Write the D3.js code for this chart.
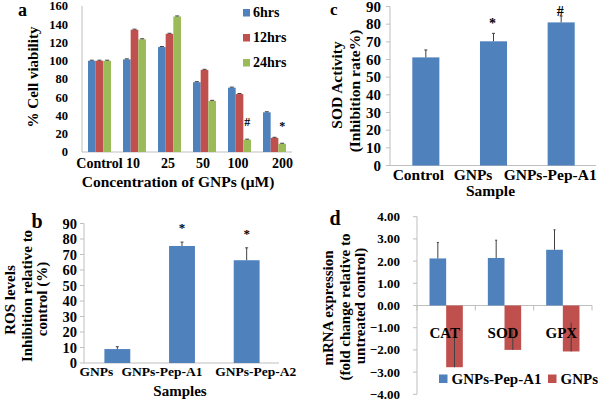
<!DOCTYPE html>
<html><head><meta charset="utf-8">
<script src="https://cdn.jsdelivr.net/npm/d3@7"></script>
<style>
html,body{margin:0;padding:0;background:#fff;}
svg text{font-family:"Liberation Serif","Times New Roman",serif;font-weight:bold;fill:#000;}
</style></head>
<body><svg id="c" width="600" height="401"></svg>
<script>
// ---- Panel a data ----
const catsA = ["Control","10","25","50","100","200"];
const seriesA = ["6hrs","12hrs","24hrs"];
const v6hrs  = [100,101.5,115,76.5,70.5,43.5];
const v12hrs = [100,134,129.5,90,63.5,15.5];
const v24hrs = [100,123.5,148.5,56,13.5,9];
const errA   = [0.6,0.6,0.6,0.6,0.6,0.6];
const sigA24 = ["","","","","#","*"];
const ticksA = [0,20,40,60,80,100,120,140,160];
// ---- Panel b data ----
const catsB = ["GNPs","GNPs-Pep-A1","GNPs-Pep-A2"];
const valB  = [9,75.5,66.3];
const errB  = [1.5,2.5,8];
const sigB  = ["","*","*"];
const ticksB = [0,10,20,30,40,50,60,70,80,90];
// ---- Panel c data ----
const catsC = ["Control","GNPs","GNPs-Pep-A1"];
const valC  = [61.2,70.3,81];
const errC  = [4.2,4.5,3.6];
const sigC  = ["","*","#"];
const ticksC = [0,10,20,30,40,50,60,70,80,90];
// ---- Panel d data ----
const genesD = ["CAT","SOD","GPX"];
const seriesD = ["GNPs-Pep-A1","GNPs"];
const pepA1D = [2.12,2.14,2.51];
const pepA1Err = [0.72,0.8,0.9];
const gnpsD = [-2.78,-2.0,-2.07];
const gnpsErr = [1.4,1.0,1.3];
const ticksD = [-4,-3,-2,-1,0,1,2,3,4];

const BLUE="#4F81BD", RED="#C0504D", GREEN="#9BBB59", AX="#BFBFBF", ERR="#404040";
const svg = d3.select("#c");

function txt(g,x,y,s,size,opts={}){
  const t=g.append("text").attr("x",x).attr("y",y).text(s).style("font-size",size+"px");
  if(opts.anchor) t.attr("text-anchor",opts.anchor);
  if(opts.dy) t.attr("dy",opts.dy);
  if(opts.rot) t.attr("transform",`rotate(-90,${x},${y})`);
  return t;
}
function yAxis(g,y,x0,ticks,fmt,size,labX,tick=0){
  g.append("line").attr("x1",x0).attr("x2",x0).attr("y1",y.range()[1]).attr("y2",y.range()[0]).attr("stroke",AX);
  ticks.forEach(v=>{
    if(tick) g.append("line").attr("x1",x0-tick).attr("x2",x0).attr("y1",y(v)).attr("y2",y(v)).attr("stroke",AX);
    txt(g,labX,y(v),fmt(v),size,{anchor:"end",dy:"0.35em"});
  });
}
function errBar(g,x,y1,y2,cap){
  g.append("line").attr("x1",x).attr("x2",x).attr("y1",y1).attr("y2",y2).attr("stroke",ERR).attr("stroke-width",1);
  if(cap) g.append("line").attr("x1",x-cap).attr("x2",x+cap).attr("y1",y2).attr("y2",y2).attr("stroke",ERR).attr("stroke-width",1);
}

// ================= Panel a =================
(function(){
  const g=svg.append("g");
  const y=d3.scaleLinear().domain([0,160]).range([152,6]);
  const x0=d3.scaleBand().domain(catsA).range([82,292]).paddingInner(0.343).paddingOuter(0.1715);
  const x1=d3.scaleBand().domain(seriesA).range([0,x0.bandwidth()]);
  const cols=[BLUE,RED,GREEN];
  const vals=[v6hrs,v12hrs,v24hrs];
  yAxis(g,y,82,ticksA,d=>d,12.5,68);
  g.append("line").attr("x1",82).attr("x2",292).attr("y1",y(0)).attr("y2",y(0)).attr("stroke",AX);
  seriesA.forEach((s,si)=>{
    catsA.forEach((c,ci)=>{
      const v=vals[si][ci];
      g.append("rect").attr("x",x0(c)+x1(s)).attr("y",y(v)).attr("width",x1.bandwidth()).attr("height",y(0)-y(v)).attr("fill",cols[si]);
      errBar(g,x0(c)+x1(s)+x1.bandwidth()/2,y(v),y(v+errA[ci]),2);
    });
  });
  catsA.forEach((c,ci)=>{
    if(sigA24[ci]){
      const cx=x0(c)+x1("24hrs")+x1.bandwidth()/2;
      txt(g,cx,y(v24hrs[ci])-18,sigA24[ci],12,{anchor:"middle",dy:"0.35em"});
    }
    const shift = ci===5?8:(ci===0?0:-1.5);
    txt(g,x0(c)+x0.bandwidth()/2+shift,168,c,14,{anchor:"middle"});
  });
  // legend
  seriesA.forEach((s,si)=>{
    g.append("rect").attr("x",243).attr("y",9+si*25).attr("width",7).attr("height",7.5).attr("fill",cols[si]);
    txt(g,253,16.5+si*25,s,14);
  });
  txt(g,33,77,"% Cell viability",15,{anchor:"middle",dy:"0.35em",rot:1});
  txt(g,178,187,"Concentration of GNPs (\u03bcM)",15.5,{anchor:"middle"});
  txt(g,18,16,"a",18);
})();

// ================= Panel b =================
(function(){
  const g=svg.append("g");
  const y=d3.scaleLinear().domain([0,90]).range([363,223.5]);
  const x=d3.scaleBand().domain(catsB).range([85,279]).paddingInner(0.6).paddingOuter(0.3);
  yAxis(g,y,84,ticksB,d=>d,14.5,77,4);
  g.append("line").attr("x1",84).attr("x2",279).attr("y1",y(0)).attr("y2",y(0)).attr("stroke",AX);
  catsB.forEach((c,i)=>{
    g.append("rect").attr("x",x(c)).attr("y",y(valB[i])).attr("width",x.bandwidth()).attr("height",y(0)-y(valB[i])).attr("fill",BLUE);
    const cx=x(c)+x.bandwidth()/2;
    errBar(g,cx,y(valB[i]),y(valB[i]+errB[i]),1.5);
    if(sigB[i]) txt(g,cx,y(valB[i]+errB[i])-14.5,sigB[i],13,{anchor:"middle",dy:"0.35em"});
    const shift=[-21,-20,9][i];
    txt(g,cx+shift,375.5,c,13.5,{anchor:"middle"});
  });
  txt(g,10,300,"ROS levels",15,{anchor:"middle",dy:"0.35em",rot:1});
  txt(g,27,296,"Inhibition relative to",15,{anchor:"middle",dy:"0.35em",rot:1});
  txt(g,42,299,"control (%)",15,{anchor:"middle",dy:"0.35em",rot:1});
  txt(g,180,396,"Samples",15,{anchor:"middle"});
  txt(g,31.5,228,"b",20);
})();

// ================= Panel c =================
(function(){
  const g=svg.append("g");
  const y=d3.scaleLinear().domain([0,90]).range([165.5,6.5]);
  const x=d3.scaleBand().domain(catsC).range([392,595]).paddingInner(0.6).paddingOuter(0.3);
  yAxis(g,y,390,ticksC,d=>d,15,381,4);
  g.append("line").attr("x1",390).attr("x2",596).attr("y1",y(0)).attr("y2",y(0)).attr("stroke",AX);
  catsC.forEach((c,i)=>{
    g.append("rect").attr("x",x(c)).attr("y",y(valC[i])).attr("width",x.bandwidth()).attr("height",y(0)-y(valC[i])).attr("fill",BLUE);
    const cx=x(c)+x.bandwidth()/2;
    errBar(g,cx,y(valC[i]),y(valC[i]+errC[i]),1.5);
    if(sigC[i]) txt(g,cx-1,y(valC[i]+errC[i])-(sigC[i]==="*"?10.5:5),sigC[i],14,{anchor:"middle",dy:"0.35em"});
    const shift=[-7.5,-20.5,-11][i];
    txt(g,cx+shift,180,c,15.5,{anchor:"middle"});
  });
  txt(g,336.7,85,"SOD Activity",15.5,{anchor:"middle",dy:"0.35em",rot:1});
  txt(g,355,91,"(Inhibition rate%)",15.5,{anchor:"middle",dy:"0.35em",rot:1});
  txt(g,490.5,195.5,"Sample",15.5,{anchor:"middle"});
  txt(g,330,15,"c",17);
})();

// ================= Panel d =================
(function(){
  const g=svg.append("g");
  const y=d3.scaleLinear().domain([-4,4]).range([394.3,216.7]);
  const x0=d3.scaleBand().domain(genesD).range([417,592]).paddingInner(0.429).paddingOuter(0.2145);
  const x1=d3.scaleBand().domain(seriesD).range([0,x0.bandwidth()]);
  yAxis(g,y,417,ticksD,d=>d3.format(".2f")(d),13,400,4);
  g.append("line").attr("x1",417).attr("x2",592).attr("y1",y(0)).attr("y2",y(0)).attr("stroke",AX);
  const step=x0.step();
  [0,1,2,3].forEach(i=>{
    const xx=417+i*step;
    g.append("line").attr("x1",xx).attr("x2",xx).attr("y1",y(0)).attr("y2",y(0)+5).attr("stroke",AX);
  });
  genesD.forEach((c,i)=>{
    const xb=x0(c)+x1("GNPs-Pep-A1");
    g.append("rect").attr("x",xb).attr("y",y(pepA1D[i])).attr("width",x1.bandwidth()).attr("height",y(0)-y(pepA1D[i])).attr("fill",BLUE);
    errBar(g,xb+x1.bandwidth()/2,y(pepA1D[i]),y(pepA1D[i]+pepA1Err[i]),1);
    const xr=x0(c)+x1("GNPs");
    g.append("rect").attr("x",xr).attr("y",y(0)).attr("width",x1.bandwidth()).attr("height",y(gnpsD[i])-y(0)).attr("fill",RED);
    errBar(g,xr+x1.bandwidth()/2,y(gnpsD[i]),y(gnpsD[i]+gnpsErr[i]),0);
  });
  genesD.forEach((c,i)=>{
    txt(g,x0(c)+x0.bandwidth()/2-1.5,337.5,c,15,{anchor:"middle"});
  });
  // legend
  g.append("rect").attr("x",439).attr("y",374.5).attr("width",8.5).attr("height",8.5).attr("fill",BLUE);
  txt(g,451.5,384,seriesD[0],15);
  g.append("rect").attr("x",548).attr("y",374.5).attr("width",8.5).attr("height",8.5).attr("fill",RED);
  txt(g,560.5,384,seriesD[1],15);
  txt(g,328,308,"mRNA expression",15,{anchor:"middle",dy:"0.35em",rot:1});
  txt(g,345,307,"(fold change relative to",15,{anchor:"middle",dy:"0.35em",rot:1});
  txt(g,360,306,"untreated control)",15,{anchor:"middle",dy:"0.35em",rot:1});
  txt(g,329.5,225,"d",20);
})();
</script></body></html>
